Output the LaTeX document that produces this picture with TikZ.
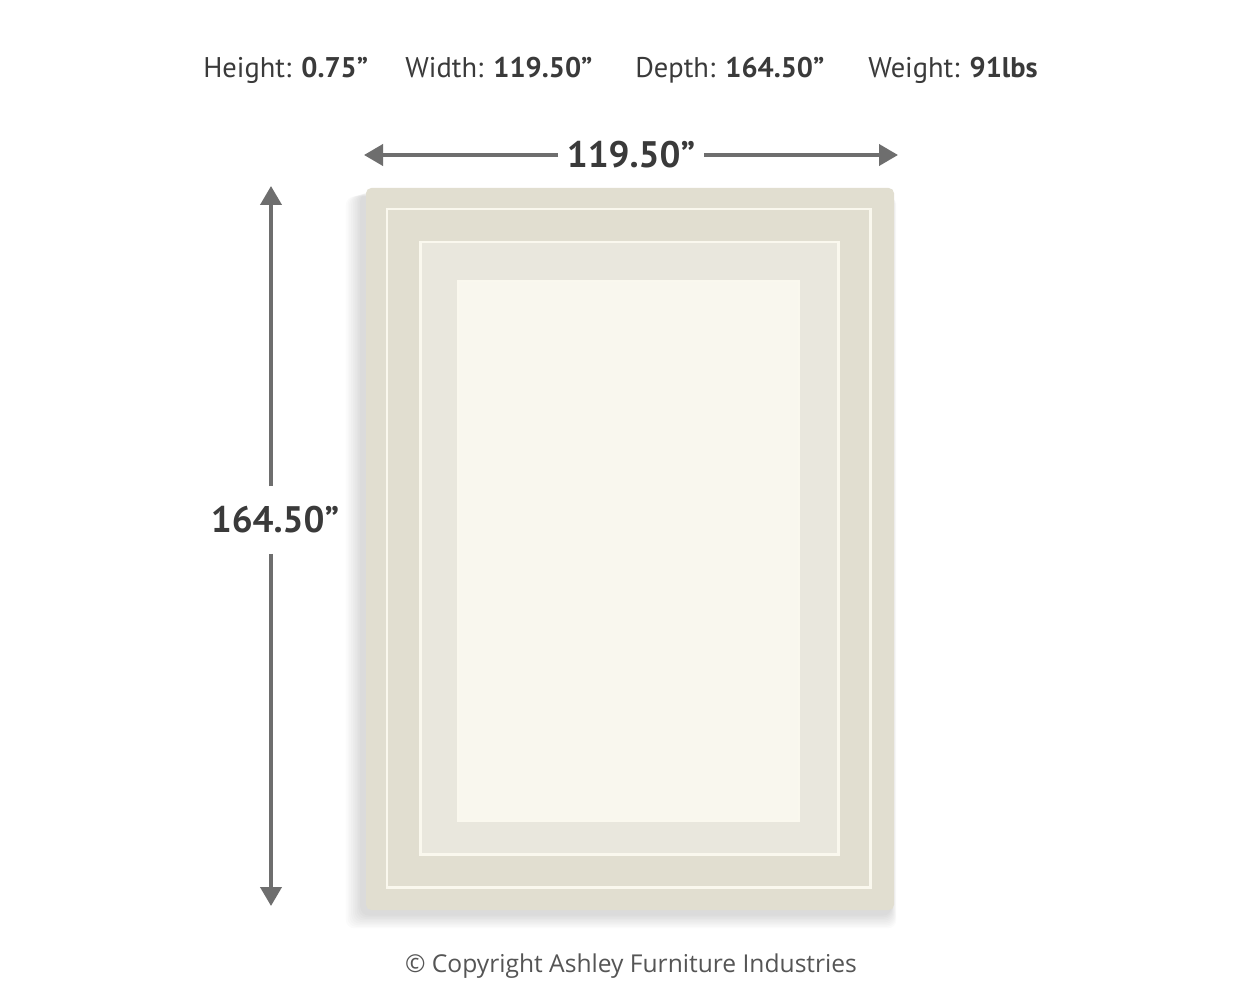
\documentclass[tikz,border=0pt]{standalone}
\usepackage{fontspec}
\setmainfont{PT Sans}
\newfontfamily\cpfont{Open Sans}
\usetikzlibrary{arrows.meta}
\definecolor{dimgray}{HTML}{6E6E6E}
\definecolor{txt}{HTML}{3A3A3A}
\definecolor{cptxt}{HTML}{555555}
\definecolor{rugband}{HTML}{E1DED0}
\definecolor{rugmid}{HTML}{E9E7DD}
\definecolor{rugpanel}{HTML}{F9F7EE}
\definecolor{rugline}{HTML}{FAF8EE}
\begin{document}
\begin{tikzpicture}[x=0.02cm,y=-0.02cm,
  dimline/.style={draw=dimgray,line width=2.2pt,-{Triangle[length=0.38cm,width=0.42cm]}},
  hdr/.style={anchor=base west,text=txt,font=\fontsize{16.2}{19}\selectfont,inner sep=0pt},
  dimlab/.style={text=txt,font=\fontsize{21}{24}\selectfont\bfseries},
  cuttext/.style={text=cptxt,font=\cpfont\fontsize{14}{17}\selectfont},
  rugedge/.style={draw=rugline,line width=1.7pt}]
\useasboundingbox[fill=white] (0,0) rectangle (1250,1000);
% header
\node[hdr] (h1) at (203,78) {Height: \textbf{0.75”}};
\node[hdr] (h2) at (405,78) {Width: \textbf{119.50”}};
\node[hdr] (h3) at (635,78) {Depth: \textbf{164.50”}};
\node[hdr] (h4) at (868,78) {Weight: \textbf{91lbs}};
% shadow
\foreach \i in {1,...,9}{
  \fill[black,opacity=0.016,rounded corners=5] (366-1.8*\i-4,188+0.5*\i+4) rectangle (894+0.6*\i-3,910+1.6*\i+4);
}
% rug
\fill[rugband,rounded corners=3] (366,188) rectangle (894,910);
\fill[rugmid] (420,242) rectangle (838,854);
\fill[rugpanel] (458,281) rectangle (799,821);
\draw[rugedge] (387,209) rectangle (870,887);
\draw[rugedge] (420,242) rectangle (838,854);
\draw[rugedge,line width=0.8pt] (458,281) rectangle (799,821);
% width dimension
\coordinate (wl) at (364,155);
\coordinate (wr) at (898,155);
\node[dimlab,inner xsep=0.17cm,inner ysep=2pt] (wlab) at (631,155) {119.50”};
\draw[dimline] (wlab) -- (wl);
\draw[dimline] (wlab) -- (wr);
% depth dimension
\coordinate (dt) at (271,186);
\coordinate (db) at (271,906);
\node[dimlab,inner ysep=0.4cm,inner xsep=2pt] (dlab) at (275,520) {164.50”};
\draw[dimline] (dt |- dlab.north) -- (dt);
\draw[dimline] (db |- dlab.south) -- (db);
% copyright
\node[cuttext] (cp) at (631,966) {© Copyright Ashley Furniture Industries};
\end{tikzpicture}
\end{document}
